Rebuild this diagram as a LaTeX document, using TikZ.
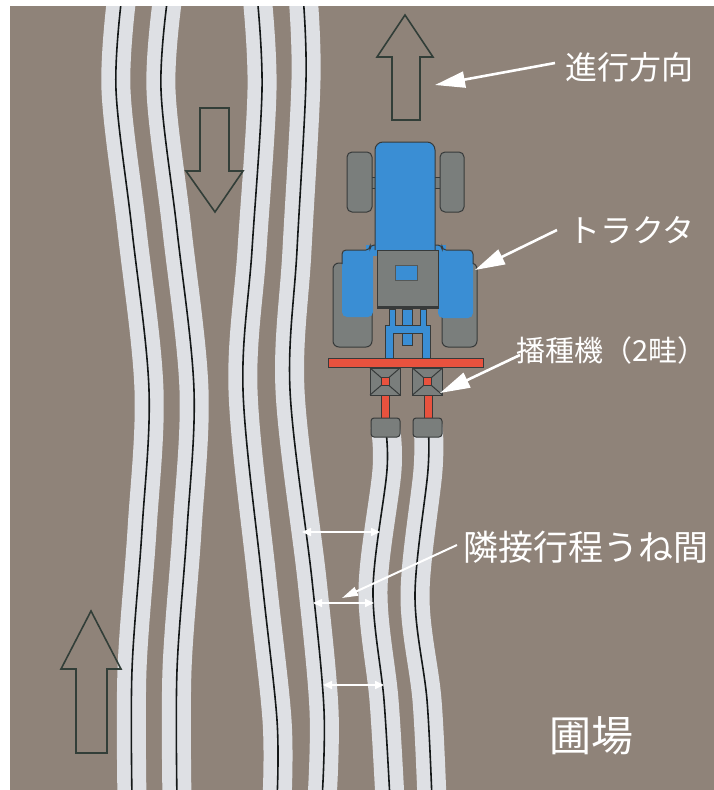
\documentclass[tikz,border=0pt]{standalone}
\usepackage{fontspec}
\newfontfamily\jp{Noto Sans CJK JP}
\usetikzlibrary{arrows.meta}

\definecolor{field}{RGB}{143,131,121}
\definecolor{band}{RGB}{222,224,228}
\definecolor{rowink}{RGB}{20,24,24}
\definecolor{tblue}{RGB}{58,142,212}
\definecolor{mgrey}{RGB}{122,126,124}
\definecolor{edge}{RGB}{55,58,58}
\definecolor{sred}{RGB}{232,82,62}
\definecolor{arrowedge}{RGB}{50,62,56}

\tikzset{
  bandline/.style={band, line width=29pt},
  rowline/.style={rowink, line width=1.6pt},
  hollow/.style={draw=arrowedge, line width=1.6pt, line join=miter},
  part/.style={draw=edge, line width=1pt},
  leader/.style={white, line width=2.6pt, -{Triangle[length=30pt,width=16pt]}},
  smallleader/.style={white, line width=2pt, -{Triangle[length=16pt,width=9pt]}},
  dimarrow/.style={white, line width=1.6pt, {Triangle[length=9pt,width=8pt]}-{Triangle[length=9pt,width=8pt]}},
  lbl/.style={text=white, inner sep=0pt, font=\jp\fontsize{32}{36}\selectfont},
}

% one seeded row: light band with the drill line along its middle
\newcommand\seedrow[1]{%
  \draw[bandline] plot[smooth, tension=0.55] coordinates {#1};
  \draw[rowline] plot[smooth, tension=0.55] coordinates {#1};
}

% seeding unit seen from above
\newcommand\hopper[2]{%
  \filldraw[part, fill=mgrey] ({#1-15},{#2-13.5}) rectangle ({#1+15},{#2+13.5});
  \draw[edge, line width=1pt]
    ({#1-15},{#2-13.5}) -- ({#1-4},{#2-4})
    ({#1+15},{#2-13.5}) -- ({#1+4},{#2-4})
    ({#1-15},{#2+13.5}) -- ({#1-4},{#2+4})
    ({#1+15},{#2+13.5}) -- ({#1+4},{#2+4});
  \filldraw[draw=edge, line width=0.8pt, fill=sred] ({#1-4},{#2-4}) rectangle ({#1+4},{#2+4});
}

\begin{document}
\begin{tikzpicture}[x=1pt,y=-1pt]
\useasboundingbox (0,0) rectangle (714,790);
\fill[white] (0,0) rectangle (714,790);
\fill[field] (10,6) rectangle (714,790);

% ---- seeded rows ----
\begin{scope}
\clip (10,6) rectangle (714,790);
\seedrow{(122,-5) (116,90) (132,230) (149,390) (142,530) (132,670) (132,800)}
\seedrow{(168,-5) (161,90) (177,230) (194,390) (187,530) (177,670) (177,800)}
\seedrow{(257,-5) (262,90) (252,250) (243,390) (262,580) (277,720) (277,800)}
\seedrow{(303,-5) (306,80) (297,250) (290,390) (312,580) (324,710) (322,800)}
\seedrow{(385,425) (387,470) (373,590) (384,700) (390,800)}
\seedrow{(428,425) (428,470) (415,595) (427,700) (432,800)}
\end{scope}

% ---- direction arrows ----
\draw[hollow] (405,15) -- (433,57) -- (420,57) -- (420,120) -- (392,120) -- (392,57) -- (377,57) -- cycle;
\draw[hollow] (215,212) -- (243,171) -- (229,171) -- (229,108) -- (200,108) -- (200,171) -- (186,171) -- cycle;
\draw[hollow] (91,611) -- (121,669) -- (107,669) -- (107,753) -- (76,753) -- (76,669) -- (61,669) -- cycle;

% ---- tractor ----
% rear wheels
\filldraw[part, fill=mgrey, rounded corners=6pt] (333,263) rectangle (372,347);
\filldraw[part, fill=mgrey, rounded corners=6pt] (442,263) rectangle (477,347);
% front wheels and stub axles
\filldraw[part, fill=mgrey] (369,177) rectangle (378,188);
\filldraw[part, fill=mgrey] (433,177) rectangle (442,188);
\filldraw[part, fill=mgrey, rounded corners=5pt] (347,152) rectangle (372,212);
\filldraw[part, fill=mgrey, rounded corners=5pt] (440,152) rectangle (464,212);
% fenders and the bar joining them
\fill[tblue, rounded corners=5pt] (342,250) rectangle (373,317);
\fill[tblue, rounded corners=5pt] (438,250) rectangle (473,318);
\fill[tblue] (366,245) rectangle (446,256);
\draw[edge, line width=1pt, rounded corners=4pt]
  (342,264) -- (342,250) -- (370,250) -- (370,245) -- (442,245) -- (442,250) -- (473,250) -- (473,264);
% bonnet
\filldraw[part, fill=tblue, rounded corners=8pt] (375,250) -- (375,142) -- (435,142) -- (435,250);
% cab / seat block
\filldraw[part, fill=mgrey] (377,250) rectangle (438,308);
\draw[edge, line width=2.5pt] (377,307) -- (438,307);
\filldraw[draw=mgrey!70!black, line width=0.6pt, fill=tblue] (395,265) rectangle (417,280);
% three-point hitch
\filldraw[part, fill=tblue] (402,309) rectangle (412,345);
\filldraw[part, fill=tblue]
  (389,309) -- (395,309) -- (395,325) -- (420,325) -- (420,309) -- (426,309) -- (426,325)
  -- (430,325) -- (430,358) -- (422,358) -- (422,333) -- (393,333) -- (393,358) -- (385,358)
  -- (385,325) -- (389,325) -- cycle;

% ---- seed drill ----
\filldraw[part, fill=sred] (328,358) rectangle (483,367);
\hopper{385}{381.5}
\hopper{427.5}{381.5}
\filldraw[draw=edge, line width=0.6pt, fill=sred] (381.5,395) rectangle (389.5,419);
\filldraw[draw=edge, line width=0.6pt, fill=sred] (424,395) rectangle (432,419);
\filldraw[part, fill=mgrey, rounded corners=3pt] (371,418) rectangle (400,437);
\filldraw[part, fill=mgrey, rounded corners=3pt] (413,418) rectangle (442,437);

% ---- spacing between adjacent passes ----
\coordinate (d1a) at (302,532); \coordinate (d1b) at (380,532);
\coordinate (d2a) at (313,603); \coordinate (d2b) at (374,603);
\coordinate (d3a) at (323,685); \coordinate (d3b) at (384,685);
\draw[dimarrow] (d1a) -- (d1b);
\draw[dimarrow] (d2a) -- (d2b);
\draw[dimarrow] (d3a) -- (d3b);

% ---- labels and leaders ----
\node[lbl, anchor=west] (tdir) at (565,67) {進行方向};
\node[lbl, anchor=west] (ttrac) at (568,230) {トラクタ};
\node[lbl, anchor=west, font=\jp\fontsize{29}{33}\selectfont] (tdrill) at (516,350) {播種機（2畦）};
\node[lbl, anchor=west, font=\jp\fontsize{35}{38}\selectfont] (tgap) at (463,547) {隣接行程うね間};
\node[lbl, anchor=center, font=\jp\fontsize{42}{46}\selectfont] (tfield) at (591,736) {圃場};

\coordinate (fdir) at (555,63);   \coordinate (pdir) at (435,85);
\coordinate (ftrac) at (557,230); \coordinate (ptrac) at (475,270);
\coordinate (fdrill) at (520,355); \coordinate (pdrill) at (440,393);
\coordinate (fgap) at (457,545);  \coordinate (pgap) at (342,598);
\draw[leader] (fdir) -- (pdir);
\draw[leader] (ftrac) -- (ptrac);
\draw[leader] (fdrill) -- (pdrill);
\draw[smallleader] (fgap) -- (pgap);
\end{tikzpicture}
\end{document}
